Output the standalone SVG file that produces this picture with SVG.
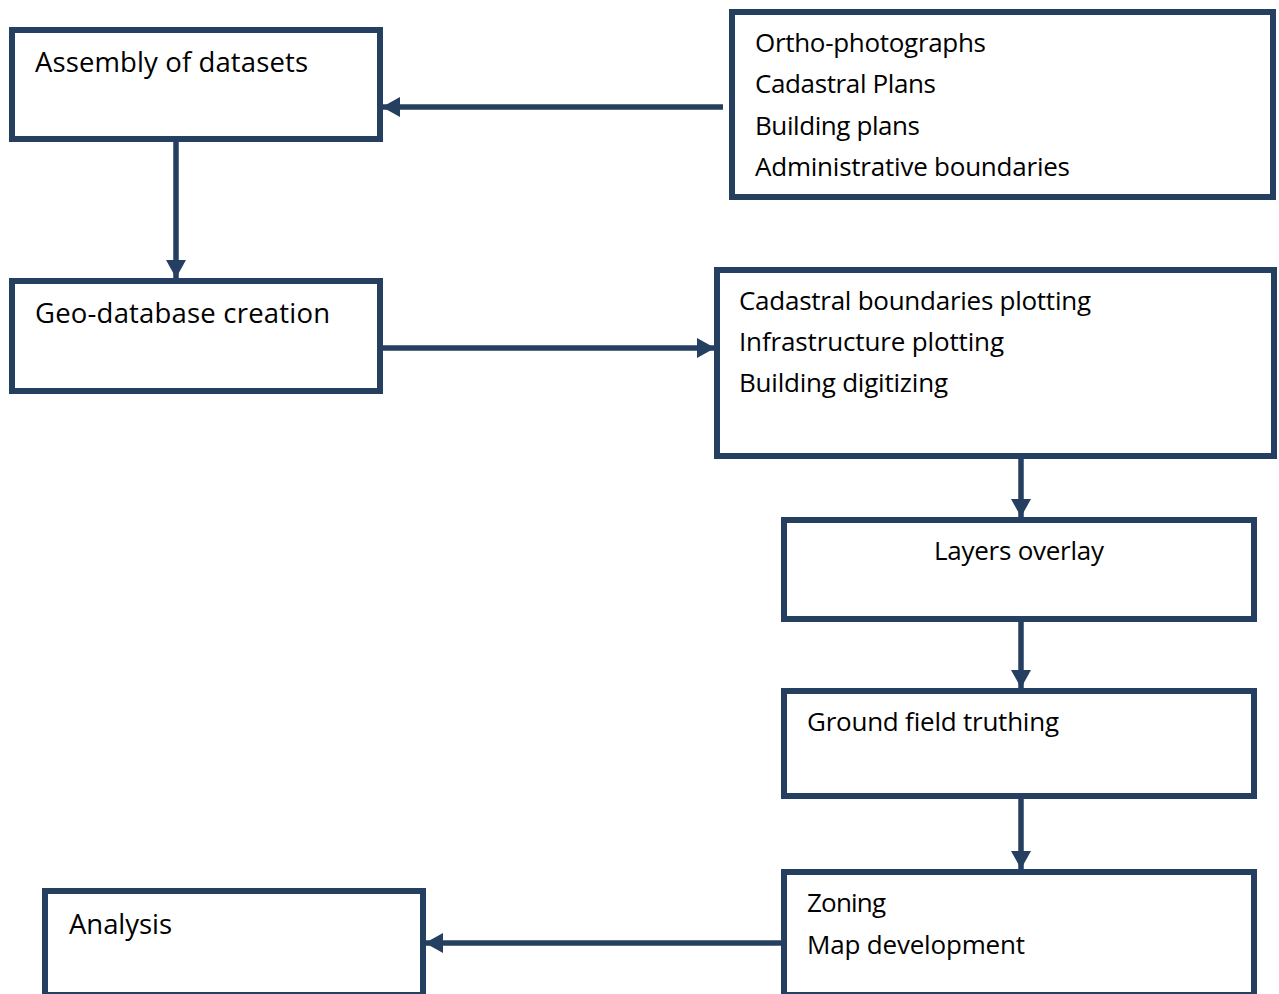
<svg xmlns="http://www.w3.org/2000/svg" width="1279" height="994" viewBox="0 0 1279 994">
<style>
.box{fill:#ffffff;stroke:#253f61;stroke-width:6}
.conn{stroke:#253f61;stroke-width:5.5;fill:none}
text{font-family:"Open Sans","Noto Sans","Liberation Sans",sans-serif;font-size:26px;fill:#000000}
.big{font-size:27.5px}
</style>
<defs>
<marker id="ah" viewBox="0 0 18 20" refX="18" refY="10" markerWidth="18" markerHeight="20" markerUnits="userSpaceOnUse" orient="auto">
<path d="M0,0 L18,10 L0,20 z" fill="#253f61"/>
</marker>
</defs>
<rect width="1279" height="994" fill="#ffffff"/>
<g id="n-assembly">
<rect class="box" x="12" y="30" width="368" height="109"/>
<text class="big" x="35" y="72" textLength="273">Assembly of datasets</text>
</g>
<g id="n-sources">
<rect class="box" x="732" y="12" width="541" height="185"/>
<text x="755" y="52" textLength="231">Ortho-photographs</text>
<text x="755" y="93" textLength="181">Cadastral Plans</text>
<text x="755" y="135" textLength="165">Building plans</text>
<text x="755" y="176" textLength="315">Administrative boundaries</text>
</g>
<g id="n-geodb">
<rect class="box" x="12" y="281" width="368" height="110"/>
<text class="big" x="35" y="323" textLength="295">Geo-database creation</text>
</g>
<g id="n-plotting">
<rect class="box" x="717" y="270" width="557" height="186"/>
<text x="739" y="310" textLength="352">Cadastral boundaries plotting</text>
<text x="739" y="351" textLength="265">Infrastructure plotting</text>
<text x="739" y="392" textLength="209">Building digitizing</text>
</g>
<g id="n-overlay">
<rect class="box" x="784" y="520" width="470" height="99"/>
<text x="934" y="560" textLength="170">Layers overlay</text>
</g>
<g id="n-ground">
<rect class="box" x="784" y="691" width="470" height="105"/>
<text x="807" y="731" textLength="252">Ground field truthing</text>
</g>
<g id="n-zoning">
<rect class="box" x="784" y="872" width="470" height="123"/>
<text x="807" y="912" textLength="79">Zoning</text>
<text x="807" y="954" textLength="218">Map development</text>
</g>
<g id="n-analysis">
<rect class="box" x="45" y="891" width="378" height="104"/>
<text class="big" x="69" y="934" textLength="103">Analysis</text>
</g>
<g id="connectors">
<line class="conn" x1="723" y1="107" x2="382" y2="107" marker-end="url(#ah)"/>
<line class="conn" x1="176" y1="142" x2="176" y2="278" marker-end="url(#ah)"/>
<line class="conn" x1="383" y1="348" x2="715" y2="348" marker-end="url(#ah)"/>
<line class="conn" x1="1021" y1="459" x2="1021" y2="517" marker-end="url(#ah)"/>
<line class="conn" x1="1021" y1="622" x2="1021" y2="688" marker-end="url(#ah)"/>
<line class="conn" x1="1021" y1="799" x2="1021" y2="869" marker-end="url(#ah)"/>
<line class="conn" x1="781" y1="943" x2="425" y2="943" marker-end="url(#ah)"/>
</g>
</svg>
